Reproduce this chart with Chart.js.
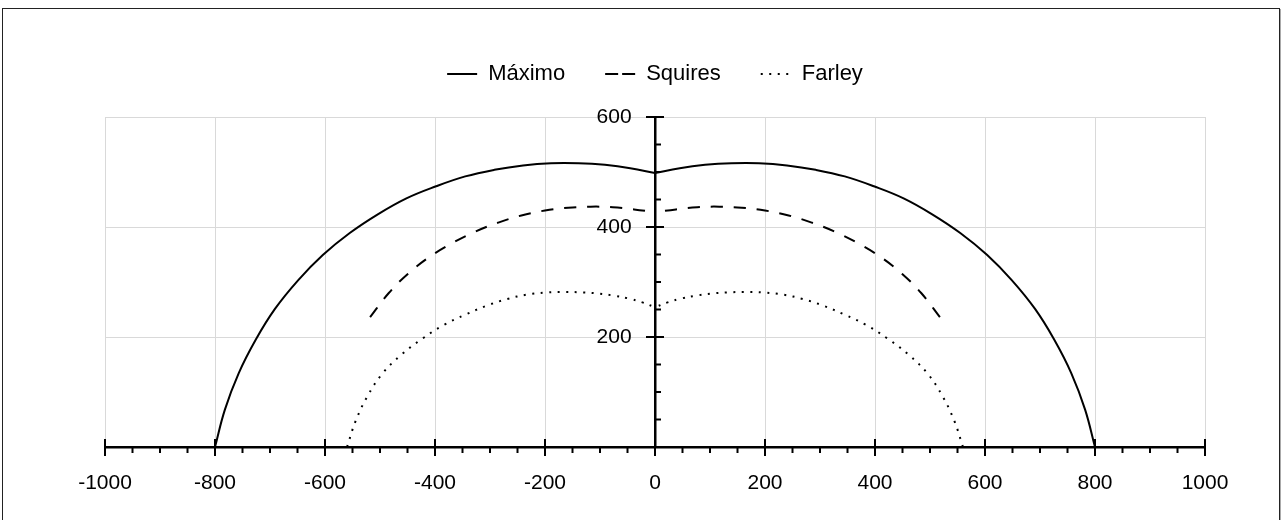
<!DOCTYPE html>
<html>
<head>
<meta charset="utf-8">
<script src="https://cdn.jsdelivr.net/npm/chart.js@4/dist/chart.umd.min.js"></script>
<style>
  html, body { margin: 0; padding: 0; background: #fff; }
  #wrap { position: relative; width: 1281px; height: 520px; }
  #frame {
    position: absolute; left: 2px; top: 8px; width: 1276px; height: 520px;
    border: 1px solid #222; box-shadow: 1px 1px 0 #aaa; pointer-events: none;
  }
</style>
</head>
<body>
<div id="wrap">
  <canvas id="chart" width="1281" height="520"></canvas>
  <div id="frame"></div>
</div>
<script>
// values (x in the horizontal units, y in the vertical units)
// each curve is split at x = 0, where it has a cusp; halves run from the outer end inwards
const maximoLeftX = [-800, -782, -757, -726, -691, -649, -604, -555, -504, -452, -398, -345, -292, -240, -189, -139, -91, -45, 0];
const maximoLeftY = [0, 68, 134, 195, 251, 303, 349, 389, 423, 452, 474, 492, 504, 512, 516, 516, 513, 507, 498];
const maximoRightX = [800, 782, 757, 726, 691, 649, 604, 555, 504, 452, 398, 345, 292, 240, 189, 139, 91, 45, 0];
const maximoRightY = [0, 68, 134, 195, 251, 303, 349, 389, 423, 452, 474, 492, 504, 512, 516, 516, 513, 507, 498];

const squiresLeftX = [-518, -484, -449, -411, -370, -328, -285, -243, -200, -158, -117, -77, -38, 0];
const squiresLeftY = [236, 280, 315, 345, 370, 391, 408, 421, 430, 435, 437, 436, 432, 427];
const squiresRightX = [518, 484, 449, 411, 370, 328, 285, 243, 200, 158, 117, 77, 38, 0];
const squiresRightY = [236, 280, 315, 345, 370, 391, 408, 421, 430, 435, 437, 436, 432, 427];

const farleyLeftX = [-560, -544, -523, -496, -461, -423, -384, -344, -306, -269, -233, -197, -163, -131, -102, -74, -48, -23, 0];
const farleyLeftY = [0, 48, 92, 133, 168, 197, 222, 241, 257, 269, 277, 281, 282, 281, 279, 275, 270, 263, 254];
const farleyRightX = [560, 544, 523, 496, 461, 423, 384, 344, 306, 269, 233, 197, 163, 131, 102, 74, 48, 23, 0];
const farleyRightY = [0, 48, 92, 133, 168, 197, 222, 241, 257, 269, 277, 281, 282, 281, 279, 275, 270, 263, 254];

const seriesNames = ["Máximo", "Squires", "Farley"];
const xTickLabels = [-1000, -800, -600, -400, -200, 0, 200, 400, 600, 800, 1000];
const yTickLabels = [200, 400, 600];

function pts(xs, ys) {
    return xs.map((x, i) => ({ x: x, y: ys[i] }));
}

function line(label, data, dash, legendDash, inLegend) {
    return {
        label: label,
        data: data,
        showLine: true,
        borderColor: "#000",
        backgroundColor: "#000",
        borderWidth: 2,
        borderDash: dash,
        pointRadius: 0,
        pointHoverRadius: 0,
        tension: 0.4,
        legendDash: legendDash,
        inLegend: inLegend
    };
}

Chart.defaults.font.family = "'Liberation Sans', Arial, Helvetica, sans-serif";
Chart.defaults.font.size = 21;
Chart.defaults.color = "#000";

// extra space under the legend
const legendGap = {
    id: "legendGap",
    beforeInit(chart) {
        const fit = chart.legend.fit;
        chart.legend.fit = function () {
            fit.bind(chart.legend)();
            this.height += 22;
        };
    }
};

// axis tick marks: majors cross the axis, minors on one side
const axisTicks = {
    id: "axisTicks",
    afterDraw(chart) {
        const { ctx, scales: { x, y } } = chart;
        const x0 = x.getPixelForValue(0);
        const y0 = y.getPixelForValue(0);
        ctx.save();
        ctx.strokeStyle = "#000";
        ctx.lineWidth = 2;
        x.ticks.forEach(t => {
            const px = x.getPixelForValue(t.value);
            const major = t.value % 200 === 0;
            ctx.beginPath();
            ctx.moveTo(px, major ? y0 - 8 : y0);
            ctx.lineTo(px, y0 + (major ? 9 : 6));
            ctx.stroke();
        });
        y.ticks.forEach(t => {
            if (t.value === 0) return;
            const py = y.getPixelForValue(t.value);
            const major = t.value % 200 === 0;
            ctx.beginPath();
            ctx.moveTo(major ? x0 - 9 : x0, py);
            ctx.lineTo(x0 + (major ? 9 : 6), py);
            ctx.stroke();
        });
        ctx.restore();
    }
};

new Chart(document.getElementById("chart"), {
    type: "scatter",
    data: {
        datasets: [
            line(seriesNames[0], pts(maximoLeftX, maximoLeftY), [], [], true),
            line(seriesNames[0], pts(maximoRightX, maximoRightY), [], [], false),
            line(seriesNames[1], pts(squiresLeftX, squiresLeftY), [12, 11], [13, 4], true),
            line(seriesNames[1], pts(squiresRightX, squiresRightY), [12, 11], [13, 4], false),
            line(seriesNames[2], pts(farleyLeftX, farleyLeftY), [2, 6.5], [2, 6.5], true),
            line(seriesNames[2], pts(farleyRightX, farleyRightY), [2, 6.5], [2, 6.5], false)
        ]
    },
    options: {
        responsive: false,
        animation: false,
        events: [],
        layout: {
            padding: { left: 105, right: 76, top: 23, bottom: 73 }
        },
        plugins: {
            tooltip: { enabled: false },
            legend: {
                position: "top",
                labels: {
                    usePointStyle: true,
                    pointStyle: "line",
                    pointStyleWidth: 30,
                    padding: 40,
                    font: { size: 22 },
                    color: "#000",
                    generateLabels: chart =>
                        Chart.defaults.plugins.legend.labels.generateLabels(chart).map(item => {
                            const ds = chart.data.datasets[item.datasetIndex];
                            item.lineDash = ds.legendDash;
                            item.lineWidth = 2;
                            item.strokeStyle = "#000";
                            return item;
                        }),
                    filter: (item, data) => data.datasets[item.datasetIndex].inLegend
                }
            }
        },
        scales: {
            x: {
                type: "linear",
                position: { y: 0 },
                min: -1000,
                max: 1000,
                afterFit: s => { s.height = 0; },
                grid: {
                    drawTicks: false,
                    lineWidth: 1,
                    color: c => (c.tick && c.tick.value % 200 === 0 && c.tick.value !== 0) ? "#d9d9d9" : "rgba(0,0,0,0)"
                },
                border: { display: true, color: "#000", width: 2.5 },
                ticks: {
                    stepSize: 50,
                    autoSkip: false,
                    maxRotation: 0,
                    minRotation: 0,
                    maxTicksLimit: 100,
                    padding: 24,
                    callback: v => xTickLabels.includes(v) ? String(v) : ""
                }
            },
            y: {
                type: "linear",
                position: { x: 0 },
                min: 0,
                max: 600,
                afterFit: s => { s.width = 0; },
                grid: {
                    drawTicks: false,
                    lineWidth: 1,
                    color: c => (c.tick && c.tick.value % 200 === 0 && c.tick.value !== 0) ? "#d9d9d9" : "rgba(0,0,0,0)"
                },
                border: { display: true, color: "#000", width: 2.5 },
                ticks: {
                    stepSize: 50,
                    autoSkip: false,
                    maxTicksLimit: 100,
                    padding: 22,
                    // trailing spaces keep the labels clear of the centred axis
                    callback: v => yTickLabels.includes(v) ? String(v) + "    " : ""
                }
            }
        }
    },
    plugins: [legendGap, axisTicks]
});
</script>
</body>
</html>
